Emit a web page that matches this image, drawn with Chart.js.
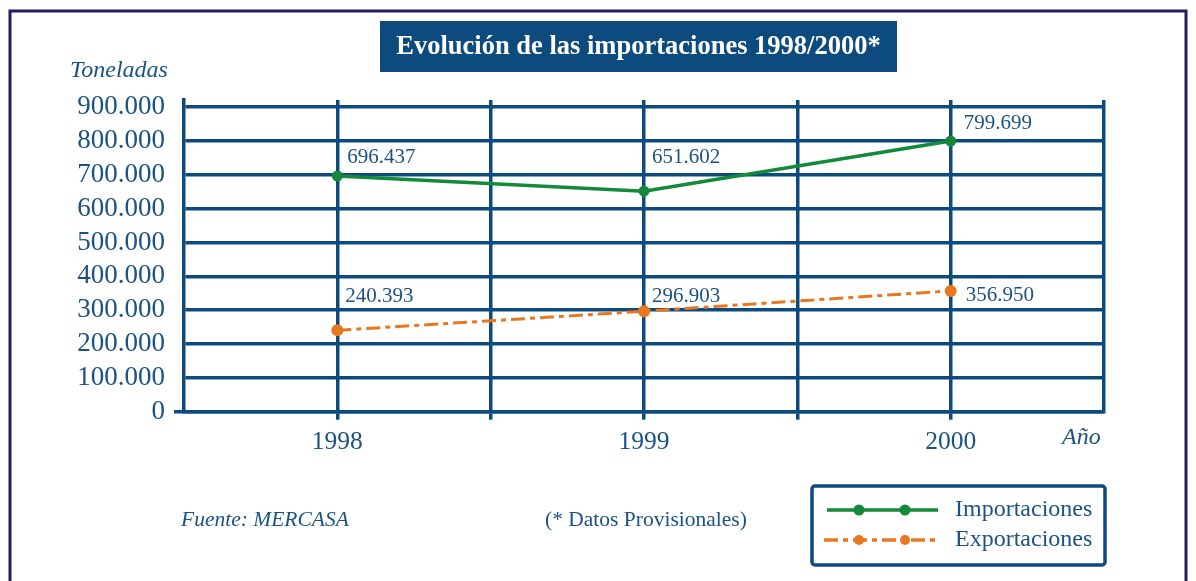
<!DOCTYPE html>
<html>
<head>
<meta charset="utf-8">
<script src="https://cdn.jsdelivr.net/npm/chart.js@4.4.1/dist/chart.umd.min.js"></script>
<style>
  html, body { margin: 0; padding: 0; background: #fff; }
  #wrap { width: 1196px; height: 581px; position: relative; }
</style>
</head>
<body>
<div id="wrap"><canvas id="myChart" width="1196" height="581"></canvas></div>
<script>
// datos
const categories = ['1998', '1999', '2000'];
const importaciones = [696437, 651602, 799699];
const exportaciones = [240393, 296903, 356950];
const yTicks = [0, 100000, 200000, 300000, 400000, 500000, 600000, 700000, 800000, 900000];
const seriesNames = ['Importaciones', 'Exportaciones'];

const NAVY = '#0d4a7d';
const TXT = '#1b5285';
const GREEN = '#128a3a';
const ORANGE = '#e8771f';
const SERIF = "'Liberation Serif', 'Times New Roman', serif";
const DASH = [14, 5, 5, 5];

Chart.defaults.font.family = SERIF;

function fmt(v) {
    if (v === 0) return '0';
    return String(v).replace(/\B(?=(\d{3})+(?!\d))/g, '.');
}

// offsets de las etiquetas respecto al punto
const labelOffsets = [
    [[10, -19], [8, -34], [13, -18]],
    [[8, -34], [8, -15], [15, 5]]
];

const decor = {
    id: 'decor',
    afterDraw(chart) {
        const c = chart.ctx;
        c.save();
        // marco
        c.strokeStyle = '#221d5e';
        c.lineWidth = 3;
        c.beginPath();
        c.moveTo(10, 581);
        c.lineTo(10, 11);
        c.lineTo(1186, 11);
        c.lineTo(1186, 581);
        c.stroke();

        // titulo
        c.fillStyle = NAVY;
        c.fillRect(380, 21, 517, 51);
        c.fillStyle = '#fff';
        c.font = 'bold 26.5px ' + SERIF;
        c.textAlign = 'center';
        c.textBaseline = 'middle';
        c.fillText('Evolución de las importaciones 1998/2000*', 638.5, 47);

        // textos de ejes
        c.fillStyle = TXT;
        c.font = 'italic 24px ' + SERIF;
        c.fillText('Toneladas', 119, 71);
        c.textAlign = 'left';
        c.fillText('Año', 1062, 438);

        // etiquetas de datos
        c.font = '21px ' + SERIF;
        chart.data.datasets.forEach((ds, i) => {
            chart.getDatasetMeta(i).data.forEach((pt, j) => {
                const o = labelOffsets[i][j];
                c.fillText(fmt(ds.data[j].y), pt.x + o[0], pt.y + o[1]);
            });
        });

        // pie
        c.font = 'italic 21.5px ' + SERIF;
        c.fillText('Fuente: MERCASA', 181, 520);
        c.font = '21.5px ' + SERIF;
        c.fillText('(* Datos Provisionales)', 545, 520);

        // leyenda
        c.strokeStyle = NAVY;
        c.lineWidth = 3.5;
        c.beginPath();
        c.roundRect(812, 486, 293, 79, 3);
        c.stroke();

        const rows = [
            { color: GREEN, dash: [], y: 510, x0: 827, x1: 938, r: 5.5 },
            { color: ORANGE, dash: DASH, y: 540, x0: 824, x1: 937, r: 5 }
        ];
        rows.forEach((r, i) => {
            c.strokeStyle = r.color;
            c.lineWidth = 3.5;
            c.setLineDash(r.dash);
            c.beginPath();
            c.moveTo(r.x0, r.y);
            c.lineTo(r.x1, r.y);
            c.stroke();
            c.setLineDash([]);
            c.fillStyle = r.color;
            [859, 905].forEach(x => {
                c.beginPath();
                c.arc(x, r.y, r.r, 0, Math.PI * 2);
                c.fill();
            });
            c.fillStyle = TXT;
            c.font = '24px ' + SERIF;
            c.textBaseline = 'middle';
            c.fillText(seriesNames[i], 955, r.y);
        });
        c.restore();
    }
};

const ctx = document.getElementById('myChart');
new Chart(ctx, {
    type: 'line',
    data: {
        datasets: [
            {
                label: seriesNames[0],
                data: categories.map((cat, i) => ({ x: Number(cat), y: importaciones[i] })),
                borderColor: GREEN,
                backgroundColor: GREEN,
                borderWidth: 3.5,
                pointRadius: 5.5,
                pointBorderWidth: 0,
                tension: 0
            },
            {
                label: seriesNames[1],
                data: categories.map((cat, i) => ({ x: Number(cat), y: exportaciones[i] })),
                borderColor: ORANGE,
                backgroundColor: ORANGE,
                borderWidth: 3,
                borderDash: DASH,
                pointRadius: 6,
                pointBorderWidth: 0,
                tension: 0
            }
        ]
    },
    options: {
        responsive: false,
        animation: false,
        layout: { padding: { top: 100, right: 92, left: 0, bottom: 0 } },
        plugins: {
            legend: { display: false },
            tooltip: { enabled: false }
        },
        scales: {
            x: {
                type: 'linear',
                min: 1997.5,
                max: 2000.5,
                afterBuildTicks: s => {
                    s.ticks = [1998, 1998.5, 1999, 1999.5, 2000, 2000.5].map(v => ({ value: v }));
                },
                afterFit: s => { s.height = 169.3; },
                ticks: {
                    color: TXT,
                    font: { size: 25.5 },
                    padding: 7,
                    maxRotation: 0,
                    autoSkip: false,
                    callback: v => (Number.isInteger(v) ? String(v) : '')
                },
                grid: {
                    color: NAVY,
                    lineWidth: 3.5,
                    tickLength: 8,
                    tickColor: c => (c.tick && c.tick.value === 2000.5 ? 'rgba(0,0,0,0)' : NAVY),
                    tickWidth: 3.5
                },
                border: { display: true, color: NAVY, width: 3.5 }
            },
            y: {
                min: 0,
                max: 921000,
                afterBuildTicks: s => {
                    s.ticks = yTicks.map(v => ({ value: v }));
                },
                afterFit: s => { s.width = 184; },
                ticks: {
                    color: TXT,
                    font: { size: 27 },
                    padding: 9,
                    autoSkip: false,
                    callback: v => fmt(v)
                },
                grid: {
                    color: NAVY,
                    lineWidth: 3.5,
                    tickLength: 10,
                    tickColor: c => (c.tick && c.tick.value === 0 ? NAVY : 'rgba(0,0,0,0)'),
                    tickWidth: 3.5
                },
                border: { display: true, color: NAVY, width: 3.5 }
            }
        }
    },
    plugins: [decor]
});
</script>
</body>
</html>
